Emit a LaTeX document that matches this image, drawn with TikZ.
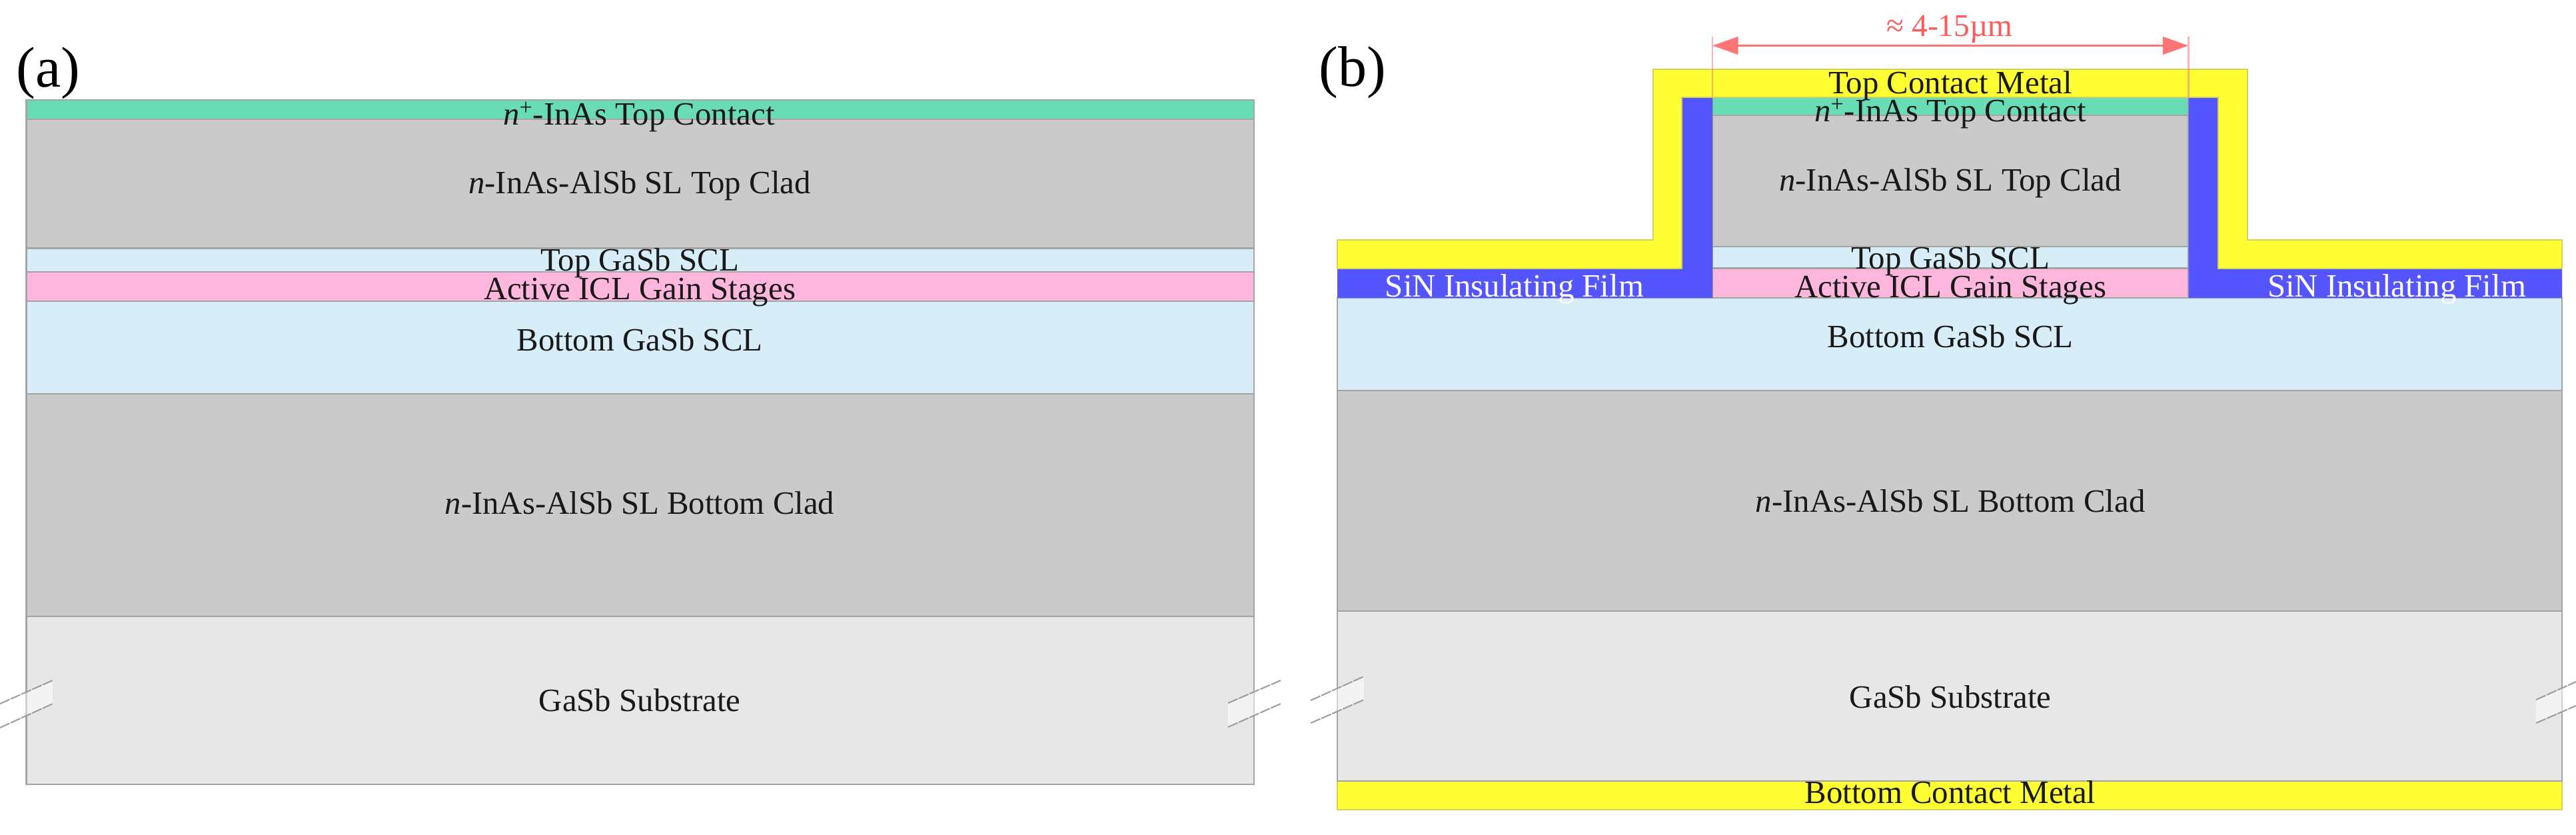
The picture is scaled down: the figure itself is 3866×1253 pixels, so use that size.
\documentclass[tikz,border=0pt]{standalone}
\usepackage{fontspec}
\setmainfont{Liberation Serif}
\usetikzlibrary{arrows.meta}
\definecolor{cteal}{HTML}{68DCB5}
\definecolor{cclad}{HTML}{CACACA}
\definecolor{cscl}{HTML}{D7EDF8}
\definecolor{cpink}{HTML}{FFB6DC}
\definecolor{csub}{HTML}{E7E7E7}
\definecolor{cmetal}{HTML}{FFFF33}
\definecolor{csin}{HTML}{5555FF}
\definecolor{cedge}{HTML}{A4A4A4}
\definecolor{cmedge}{HTML}{D2D25A}
\definecolor{cdim}{HTML}{FF7575}
\definecolor{cdimtxt}{HTML}{FF5A5A}
\newcommand{\nplus}{{\itshape n}\textsuperscript{+}}
\tikzset{
  layer/.style={draw=cedge,line width=1.6pt,line join=miter},
  lbl/.style={anchor=base,inner sep=0pt,font=\fontsize{27.8}{32}\selectfont,text=black!90},
  sinlbl/.style={lbl,text=white},
  panel/.style={anchor=base west,inner sep=0pt,font=\fontsize{49}{56}\selectfont},
  dimlbl/.style={anchor=base,inner sep=0pt,font=\fontsize{27}{32}\selectfont,text=cdimtxt},
  dimline/.style={draw=cdim,line width=2pt,{Triangle[length=22pt,width=15pt]}-{Triangle[length=22pt,width=15pt]}},
  dimext/.style={draw=cdim,line width=1.2pt,opacity=.55},
  breakfill/.style={fill=white,fill opacity=.5,draw=none},
  breakline/.style={draw=gray!75,line width=1.2pt,dash pattern=on 9pt off 1pt},
}
\begin{document}
\begin{tikzpicture}[x=0.02cm,y=-0.02cm]
\useasboundingbox (0,0) rectangle (3866,1253);
% ---------- panel (a)
\path[layer,fill=csub]   (39.5,925) rectangle (1882,1177);
\path[layer,fill=cclad]  (39.5,591) rectangle (1882,925);
\path[layer,fill=cscl]   (39.5,452) rectangle (1882,591);
\path[layer,fill=cpink]  (39.5,408) rectangle (1882,452);
\path[layer,fill=cscl]   (39.5,372.5) rectangle (1882,408);
\path[layer,fill=cclad]  (39.5,179) rectangle (1882,372.5);
\path[layer,fill=cteal]  (39.5,150) rectangle (1882,179);
% ---------- panel (b)
\path[layer,fill=cmetal,draw=cmedge] (2007,1172) rectangle (3845,1215);
\path[layer,fill=csub]   (2007,917) rectangle (3845,1172);
\path[layer,fill=cclad]  (2007,586) rectangle (3845,917);
\path[layer,fill=cscl]   (2007,447) rectangle (3845,586);
\path[layer,fill=cpink]  (2570,402.5) rectangle (3284.5,447);
\path[layer,fill=cscl]   (2570,370) rectangle (3284.5,402.5);
\path[layer,fill=cclad]  (2570,173) rectangle (3284.5,370);
\path[layer,fill=cteal]  (2570,146) rectangle (3284.5,173);
% SiN film
\fill[csin] (2007,403) -- (2524,403) -- (2524,146) -- (2570,146) -- (2570,447) -- (2007,447) -- cycle;
\fill[csin] (3845,403) -- (3329,403) -- (3329,146) -- (3284.5,146) -- (3284.5,447) -- (3845,447) -- cycle;
% top metal
\path[draw=cmedge,line width=1.4pt,fill=cmetal]
  (2007,360) -- (2481,360) -- (2481,104) -- (3373,104) -- (3373,360) -- (3845,360) -- (3845,403)
  -- (3329,403) -- (3329,146) -- (2524,146) -- (2524,403) -- (2007,403) -- cycle;
% ---------- break marks
\fill[breakfill] (0,1056) -- (79,1021) -- (79,1056) -- (0,1092) -- cycle;
\draw[breakline] (0,1056) -- (79,1021);
\draw[breakline] (0,1092) -- (79,1056);
\fill[breakfill] (1843,1055) -- (1922,1021) -- (1922,1056) -- (1843,1091) -- cycle;
\draw[breakline] (1843,1055) -- (1922,1021);
\draw[breakline] (1843,1091) -- (1922,1056);
\fill[breakfill] (1967,1051) -- (2047,1015) -- (2047,1050) -- (1967,1085) -- cycle;
\draw[breakline] (1967,1051) -- (2047,1015);
\draw[breakline] (1967,1085) -- (2047,1050);
\fill[breakfill] (3806,1050) -- (3866,1023) -- (3866,1059) -- (3806,1085) -- cycle;
\draw[breakline] (3806,1050) -- (3866,1023);
\draw[breakline] (3806,1085) -- (3866,1059);
% ---------- dimension
\coordinate (dimLtop) at (2570,55);
\coordinate (dimLbot) at (2570,146);
\coordinate (dimRtop) at (3284.5,55);
\coordinate (dimRbot) at (3284.5,146);
\coordinate (dimL) at (2570,68.5);
\coordinate (dimR) at (3284.5,68.5);
\draw[dimext] (dimLtop) -- (dimLbot);
\draw[dimext] (dimRtop) -- (dimRbot);
\draw[dimline] (dimL) -- (dimR);
\node[dimlbl] (dimtext) at (2926,55) {≈ 4-15µm};
% ---------- labels (a)
\node[panel] (pa) at (24,131) {(a)};
\node[lbl] (a1) at (959,188) {\nplus-InAs Top Contact};
\node[lbl] (a2) at (960,290.5) {{\itshape n}-InAs-AlSb SL Top Clad};
\node[lbl] (a3) at (960,406) {Top GaSb SCL};
\node[lbl] (a4) at (960,449) {Active ICL Gain Stages};
\node[lbl] (a5) at (960,526) {Bottom GaSb SCL};
\node[lbl] (a6) at (960,771) {{\itshape n}-InAs-AlSb SL Bottom Clad};
\node[lbl] (a7) at (960,1067) {GaSb Substrate};
% ---------- labels (b)
\node[panel] (pb) at (1979,130) {(b)};
\node[lbl] (b0) at (2927,141) {Top Contact Metal};
\node[lbl] (b1) at (2927,183) {\nplus-InAs Top Contact};
\node[lbl] (b2) at (2927,287) {{\itshape n}-InAs-AlSb SL Top Clad};
\node[lbl] (b3) at (2927,403) {Top GaSb SCL};
\node[lbl] (b4) at (2927,446) {Active ICL Gain Stages};
\node[lbl] (b5) at (2927,521) {Bottom GaSb SCL};
\node[lbl] (b6) at (2927,768) {{\itshape n}-InAs-AlSb SL Bottom Clad};
\node[lbl] (b7) at (2927,1062) {GaSb Substrate};
\node[lbl] (b8) at (2927,1205) {Bottom Contact Metal};
\node[sinlbl] (s1) at (2273,445) {SiN Insulating Film};
\node[sinlbl] (s2) at (3597,445) {SiN Insulating Film};
\end{tikzpicture}
\end{document}
